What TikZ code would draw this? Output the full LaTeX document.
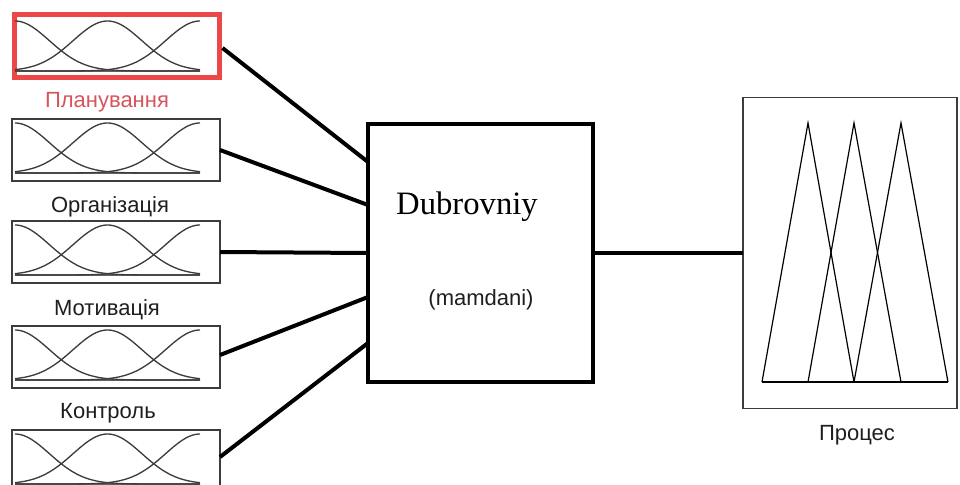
\documentclass[tikz,border=0pt]{standalone}
\usepackage{fontspec}
\setmainfont{Liberation Sans}
\newfontfamily\serifdub{Liberation Serif}
\usetikzlibrary{calc}
\definecolor{redbox}{RGB}{236,72,72}
\definecolor{redtxt}{RGB}{214,84,92}
\definecolor{mfgray}{RGB}{60,60,60}
\definecolor{txtgray}{RGB}{30,30,30}
\begin{document}
\begin{tikzpicture}[x=0.75pt,y=-0.75pt,
  inbox/.style={draw=mfgray, line width=1.1pt, rectangle, inner sep=0pt, outer sep=0pt,
    minimum width=156pt, minimum height=46.5pt, anchor=north west},
  redframe/.style={draw=redbox, line width=3.75pt, rectangle, inner sep=0pt, outer sep=0pt,
    minimum width=153.75pt, minimum height=47.25pt, anchor=north west},
  fisbox/.style={draw=black, line width=3pt, rectangle, inner sep=0pt, outer sep=0pt,
    minimum width=168.75pt, minimum height=193.5pt},
  outbox/.style={draw=mfgray, line width=1.1pt, rectangle, inner sep=0pt, outer sep=0pt,
    minimum width=160.5pt, minimum height=233.25pt},
  conn/.style={draw=black, line width=3pt},
  mfcurve/.style={draw=mfgray, line width=1pt},
  mfbase/.style={draw=mfgray!80, line width=1.6pt},
  tri/.style={draw=black, line width=0.9pt, line join=miter},
  lbl/.style={font=\fontsize{16.5}{19}\selectfont, text=txtgray, inner sep=0pt}
]
\clip (0,0) rectangle (960,485);
\path[use as bounding box] (0,0) rectangle (960,485);

% input boxes
\node[redframe] (in1) at (14.5,14.5) {};
\node[inbox] (in2) at (12,119) {};
\node[inbox] (in3) at (12,221) {};
\node[inbox] (in4) at (12,326) {};
\node[inbox] (in5) at (12,430) {};

% membership curves
\foreach \ta/\tb in {21/71, 123/173, 225/275, 330/380, 434/484}{
  \draw[mfbase] (15,\tb) -- (200,\tb);
  \draw[mfcurve] plot[domain=15:200, samples=90] (\x,{\tb-(\tb-\ta)*exp(-0.5*((\x-15)/34.4)^2)});
  \draw[mfcurve] plot[domain=15:200, samples=90] (\x,{\tb-(\tb-\ta)*exp(-0.5*((\x-107.5)/34.4)^2)});
  \draw[mfcurve] plot[domain=15:200, samples=90] (\x,{\tb-(\tb-\ta)*exp(-0.5*((\x-200)/34.4)^2)});
}

% labels
\node[lbl, text=redtxt] (l1) at (107,102) {Планування};
\node[lbl] (l2) at (110,207) {Організація};
\node[lbl] (l3) at (107,310) {Мотивація};
\node[lbl] (l4) at (108,413) {Контроль};

% FIS box
\node[fisbox] (fis) at (480.5,253) {};
\node[font=\serifdub\fontsize{24.5}{28}\selectfont, inner sep=0pt] (dub) at (467,207) {Dubrovniy};
\node[lbl] (mam) at (481,300) {(mamdani)};

% output box
\node[outbox] (out) at (850,253) {};
\draw[tri] (762,382) -- (808,123) -- (854,382);
\draw[tri] (808,382) -- (854,123) -- (901,382);
\draw[tri] (854,382) -- (901,123) -- (948,382);
\draw[tri] (762,382) -- (948,382);
\node[lbl] (lo) at (857,435) {Процес};

% connectors
\draw[conn] ($(in1.east)+(3,2)$) -- ($(fis.west)+(0,-91)$);
\draw[conn] (in2.east) -- ($(fis.west)+(0,-48)$);
\draw[conn] (in3.east) -- (fis.west);
\draw[conn] ($(in4.east)+(0,-2)$) -- ($(fis.west)+(0,44)$);
\draw[conn] ($(in5.east)+(0,-4)$) -- ($(fis.west)+(0,90)$);
\draw[conn] (fis.east) -- (out.west);
\end{tikzpicture}
\end{document}
